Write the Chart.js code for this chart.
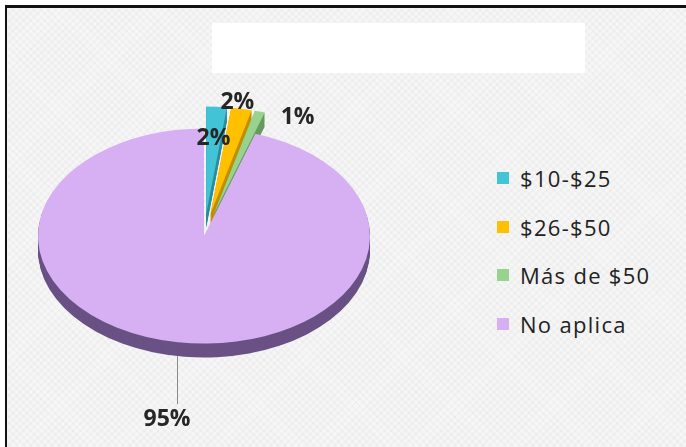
<!DOCTYPE html>
<html lang="es">
<head>
  <meta charset="UTF-8" />
  <title>Gasto por rango</title>
  <script src="https://cdn.jsdelivr.net/npm/chart.js"></script>
  <style>
    html, body { margin: 0; padding: 0; background: #fff; overflow: hidden; }
    body {
      width: 686px; height: 447px;
      position: relative;
      font-family: "Open Sans", sans-serif;
    }
    #frame {
      position: absolute; left: 5px; top: 5px;
      width: 700px; height: 460px;
      box-sizing: border-box;
      border-left: 2px solid #111;
      border-top: 3px solid #111;
      background-color: #f6f6f6;
      background-image:
        repeating-linear-gradient(45deg, rgba(0,0,0,0.018) 0 2px, transparent 2px 5px),
        repeating-linear-gradient(-45deg, rgba(0,0,0,0.018) 0 2px, transparent 2px 5px);
    }
    #cap { position: absolute; left: 212px; top: 23px; width: 373px; height: 50px; background: #fff; }
    #chart { position: absolute; left: 0; top: 0; }
    #legend {
      position: absolute; left: 497px; top: 166px;
      list-style: none; margin: 0; padding: 0;
    }
    #legend li {
      display: flex; align-items: center;
      height: 24px; margin-bottom: 24.7px;
      font-size: 22px; letter-spacing: 1.3px; color: #222;
    }
    #legend .box { width: 12px; height: 12px; margin-right: 11px; flex: none; }
  </style>
</head>
<body>
  <div id="frame"></div>
  <div id="cap"></div>
  <canvas id="chart" width="420" height="447"></canvas>
  <ul id="legend"></ul>
  <script>
    const categories = ['$10-$25', '$26-$50', 'Más de $50', 'No aplica'];
    const shares = [2, 2, 1, 95];

    const sliceColors = ['#42c3d6', '#ffc000', '#98d38d', '#d7b0f3'];
    const wallColors = ['#2c8d9c', '#c08f00', '#679a5f', '#6a5185'];

    function squash(ctx, cx, cy, k) {
      ctx.translate(cx, cy);
      ctx.scale(1, k);
      ctx.translate(-cx, -cy);
    }

    // shift of a slice along its bisector (pulled-out slices)
    function pullShift(arc, amount) {
      const mid = (arc.startAngle + arc.endAngle) / 2;
      return [Math.cos(mid) * amount, Math.sin(mid) * amount];
    }

    function wedge(ctx, arc) {
      ctx.beginPath();
      ctx.moveTo(arc.x, arc.y);
      ctx.arc(arc.x, arc.y, arc.outerRadius, arc.startAngle, arc.endAngle);
      ctx.closePath();
    }

    // flattened pie with a side wall, slices drawn back to front
    const pie3d = {
      id: 'pie3d',
      beforeDatasetDraw(chart, args, opts) {
        const ctx = chart.ctx;
        const arcs = args.meta.data;
        const cx = arcs[0].x, cy = arcs[0].y;
        const order = arcs.map((a, i) => i).reverse();

        for (let d = opts.depth; d >= 1; d--) {
          ctx.save();
          ctx.translate(0, d);
          squash(ctx, cx, cy, opts.tilt);
          order.forEach(i => {
            const [dx, dy] = pullShift(arcs[i], opts.pull[i]);
            ctx.save();
            ctx.translate(dx, dy);
            wedge(ctx, arcs[i]);
            ctx.fillStyle = opts.walls[i];
            ctx.fill();
            ctx.restore();
          });
          ctx.restore();
        }

        ctx.save();
        squash(ctx, cx, cy, opts.tilt);
        order.forEach(i => {
          const [dx, dy] = pullShift(arcs[i], opts.pull[i]);
          ctx.save();
          ctx.translate(dx, dy);
          arcs[i].draw(ctx);
          ctx.restore();
        });
        ctx.restore();
        return false;
      }
    };

    // percentage labels, one leader line for the big slice
    const pctLabels = {
      id: 'pctLabels',
      afterDraw(chart, args, opts) {
        const ctx = chart.ctx;
        const p3 = chart.options.plugins.pie3d;
        const arcs = chart.getDatasetMeta(0).data;
        const cx = arcs[0].x, cy = arcs[0].y;
        ctx.save();
        ctx.font = opts.font;
        ctx.fillStyle = opts.color;
        ctx.textAlign = 'center';
        ctx.textBaseline = 'middle';
        arcs.forEach((arc, i) => {
          const mid = (arc.startAngle + arc.endAngle) / 2;
          const [dx, dy] = pullShift(arc, p3.pull[i]);
          const r = arc.outerRadius * opts.radius[i];
          let x = cx + dx + Math.cos(mid) * r;
          let y = cy + (dy + Math.sin(mid) * r) * p3.tilt;
          if (opts.leader[i] > 0) {
            y += p3.depth;
            ctx.strokeStyle = '#8a8a8a';
            ctx.lineWidth = 1;
            ctx.beginPath();
            ctx.moveTo(Math.round(x) - 0.5, y);
            ctx.lineTo(Math.round(x) - 0.5, y + opts.leader[i]);
            ctx.stroke();
            y += opts.leader[i] + 15;
          }
          ctx.fillText(shares[i] + '%', x + opts.shiftX[i], y + opts.shiftY[i]);
        });
        ctx.restore();
      }
    };

    const chart = new Chart(document.getElementById('chart'), {
      type: 'pie',
      data: {
        labels: categories,
        datasets: [{
          data: shares,
          backgroundColor: sliceColors,
          borderWidth: 0,
          radius: 166
        }]
      },
      options: {
        responsive: false,
        animation: false,
        events: [],
        layout: { padding: { left: 0, right: 12, top: 36, bottom: 11 } },
        plugins: {
          legend: { display: false },
          tooltip: { enabled: false },
          pie3d: { tilt: 0.648, depth: 14, pull: [34, 34, 34, 0], walls: wallColors },
          pctLabels: {
            font: 'bold 23px "Open Sans"',
            color: '#262626',
            radius: [0.7, 1.06, 1.04, 1],
            leader: [0, 0, 0, 48],
            shiftX: [0, -6, 36, -11],
            shiftY: [0, 0, 10, 0]
          }
        }
      },
      plugins: [pie3d, pctLabels]
    });

    // legend list built from the chart's own legend items
    const legendEl = document.getElementById('legend');
    chart.options.plugins.legend.labels.generateLabels(chart).forEach(item => {
      const li = document.createElement('li');
      const box = document.createElement('span');
      box.className = 'box';
      box.style.background = item.fillStyle;
      li.appendChild(box);
      li.appendChild(document.createTextNode(item.text));
      legendEl.appendChild(li);
    });
  </script>
</body>
</html>
